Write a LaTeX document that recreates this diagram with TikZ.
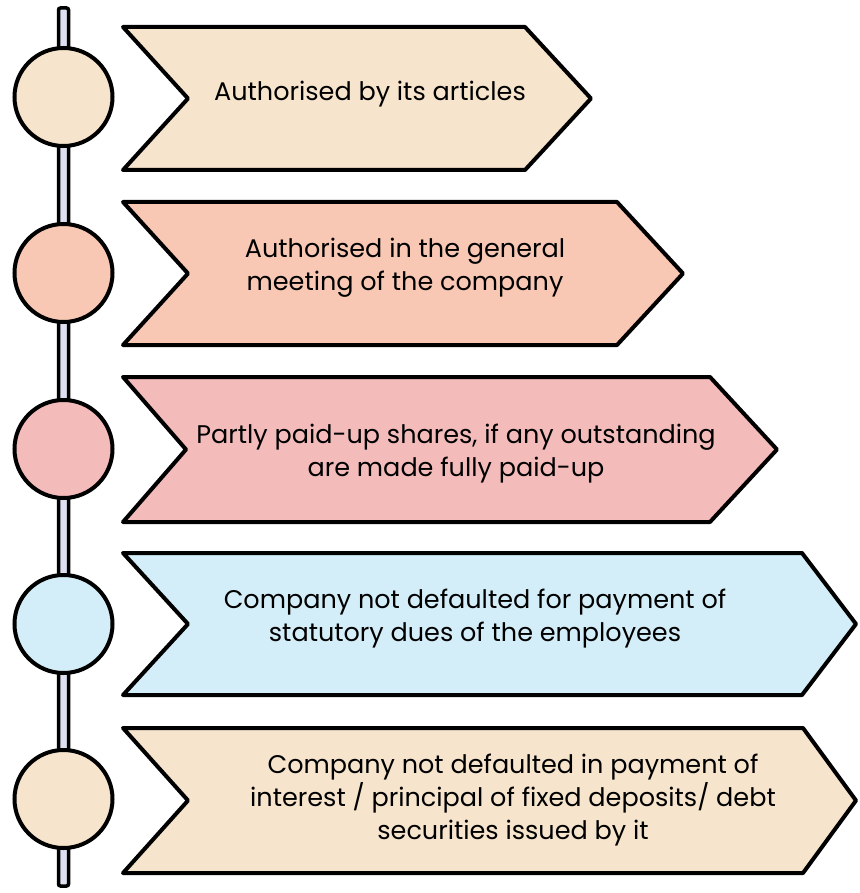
\documentclass[tikz,border=0pt]{standalone}
\usepackage{fontspec}
\setmainfont{Poppins}
\definecolor{cbeige}{HTML}{F6E4CC}
\definecolor{cpeach}{HTML}{F8C8B4}
\definecolor{cpink}{HTML}{F4BBBB}
\definecolor{cblue}{HTML}{D3EEF8}
\definecolor{cbar}{HTML}{DDE0F0}
\newcommand{\chevshape}[7]{%
  \draw[chevstyle, fill=#7] (#1,#2) -- (#5,#2) -- (#6,{(#2+#3)/2}) -- (#5,#3) -- (#1,#3) -- (#4,{(#2+#3)/2}) -- cycle;}
\begin{document}
\begin{tikzpicture}[x=1pt,y=-1pt,
  chevstyle/.style={draw=black, line width=4pt, line join=round},
  dot/.style={circle, draw=black, line width=4pt, minimum size=98pt, inner sep=0pt},
  txt/.style={align=center, font=\fontsize{25.5}{33}\selectfont, text=black, inner sep=0pt}]
\useasboundingbox (0,0) rectangle (859,893);
% bar
\draw[fill=cbar, line width=3.5pt, rounded corners=2pt] (58.5,8) rectangle (68.5,886);
% circles
\node[dot, fill=cbeige] (c1) at (63.5,97) {};
\node[dot, fill=cpeach] (c2) at (63.5,273) {};
\node[dot, fill=cpink] (c3) at (63.5,449) {};
\node[dot, fill=cblue] (c4) at (63.5,624) {};
\node[dot, fill=cbeige] (c5) at (63.5,799) {};
% chevrons
\chevshape{123}{27}{170}{188}{525}{591}{cbeige}
\chevshape{123}{202}{345}{188}{617}{683}{cpeach}
\chevshape{123}{377}{522}{186}{710}{777}{cpink}
\chevshape{123}{553}{695}{188}{802}{856}{cblue}
\chevshape{123}{728}{873}{188}{803}{856}{cbeige}
% texts
\node[txt] (t1) at (370,94) {Authorised by its articles};
\node[txt] (t2) at (405,268) {Authorised in the general\\meeting of the company};
\node[txt] (t3) at (456,454) {Partly paid-up shares, if any outstanding\\are made fully paid-up};
\node[txt] (t4) at (475,619) {Company not defaulted for payment of\\statutory dues of the employees};
\node[txt] (t5) at (513,800) {Company not defaulted in payment of\\interest / principal of fixed deposits/ debt\\securities issued by it};
\end{tikzpicture}
\end{document}
